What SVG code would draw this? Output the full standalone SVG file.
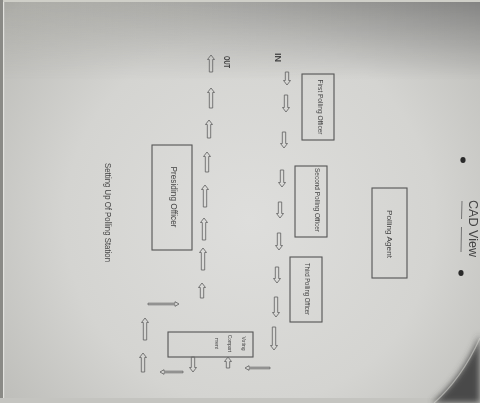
<svg xmlns="http://www.w3.org/2000/svg" width="480" height="403" viewBox="0 0 480 403">
<defs>
<radialGradient id="paper" cx="250" cy="220" r="370" gradientUnits="userSpaceOnUse">
<stop offset="0" stop-color="#dededc"/>
<stop offset="0.5" stop-color="#d4d4d1"/>
<stop offset="0.85" stop-color="#bcbcb8"/>
<stop offset="1" stop-color="#959591"/>
</radialGradient>
<linearGradient id="topshade" x1="0" y1="0" x2="1" y2="0">
<stop offset="0" stop-color="#9c9c96" stop-opacity="0.45"/>
<stop offset="1" stop-color="#707070" stop-opacity="0.75"/>
</linearGradient>
<linearGradient id="topfade" x1="0" y1="0" x2="0" y2="1">
<stop offset="0" stop-color="#fff" stop-opacity="1"/>
<stop offset="1" stop-color="#fff" stop-opacity="0"/>
</linearGradient>
<mask id="tm"><rect x="0" y="0" width="480" height="80" fill="url(#topfade)"/></mask>
<filter id="soft" x="-5%" y="-5%" width="110%" height="110%"><feGaussianBlur stdDeviation="0.45"/></filter>
<filter id="blur3"><feGaussianBlur stdDeviation="3"/></filter>
<style>
.box{fill:none;stroke:#555;stroke-width:1.1}
.arr{fill:none;stroke:#6a6a6a;stroke-width:0.9;stroke-linejoin:round}
.t{font-family:"Liberation Sans",Arial,sans-serif;fill:#444}
</style>
</defs>
<rect width="480" height="403" fill="url(#paper)"/>
<rect width="480" height="80" fill="url(#topshade)" mask="url(#tm)"/>
<rect x="0" y="0" width="480" height="2" fill="#cfcfc8"/>
<rect x="0" y="0" width="3" height="403" fill="#8a8a86"/>
<rect x="3" y="2" width="1.2" height="401" fill="#e2e2de"/>
<rect x="0" y="398" width="480" height="5" fill="#c4c4c0"/>
<path d="M480,335 Q462,378 432,403 L480,403 Z" fill="#4a4a48" filter="url(#blur3)"/>
<path d="M480,338 Q462,378 434,403" fill="none" stroke="#d0d0cc" stroke-width="1.2" opacity="0.6"/>

<g filter="url(#soft)">
<g id="cad-view">
<text class="t" transform="translate(469,228.5) rotate(90)" font-size="13" text-anchor="middle" textLength="57" lengthAdjust="spacingAndGlyphs" fill="#555">CAD View</text>
<path d="M462,201 L461.5,219 M461.5,227 L461,252" stroke="#6a6a6a" stroke-width="0.9" fill="none"/>
</g>
<g id="holes">
<ellipse cx="463" cy="160" rx="2.6" ry="3" fill="#2a2a2a"/>
<ellipse cx="461" cy="273" rx="2.6" ry="3" fill="#2a2a2a"/>
</g>
<g id="polling-agent">
<rect class="box" x="372" y="188" width="35" height="90"/>
<text class="t" transform="translate(386.5,234) rotate(90)" font-size="7.5" text-anchor="middle" textLength="48" lengthAdjust="spacingAndGlyphs">Polling Agent</text>
</g>
<g id="first-polling-officer">
<rect class="box" x="302" y="74" width="32" height="66"/>
<text class="t" transform="translate(318,107) rotate(90)" font-size="6.5" text-anchor="middle" textLength="55" lengthAdjust="spacingAndGlyphs">First Polling Officer</text>
</g>
<g id="second-polling-officer">
<rect class="box" x="295" y="166" width="32" height="71"/>
<text class="t" transform="translate(314.5,200) rotate(90)" font-size="6.5" text-anchor="middle" textLength="64" lengthAdjust="spacingAndGlyphs">Second Polling Officer</text>
</g>
<g id="third-polling-officer">
<rect class="box" x="290" y="257" width="32" height="65"/>
<text class="t" transform="translate(305,289) rotate(90)" font-size="6.5" text-anchor="middle" textLength="52" lengthAdjust="spacingAndGlyphs">Third Polling Officer</text>
</g>
<g id="presiding-officer">
<rect class="box" x="152" y="145" width="40" height="105"/>
<text class="t" transform="translate(171,197) rotate(90)" font-size="9" text-anchor="middle" textLength="61" lengthAdjust="spacingAndGlyphs">Presiding Officer</text>
</g>
<g id="voting-compartment">
<rect class="box" x="168" y="332" width="85" height="25"/>
<text class="t" transform="translate(241.5,343.5) rotate(90)" font-size="5" text-anchor="middle">Voting</text>
<text class="t" transform="translate(227.5,343.5) rotate(90)" font-size="5" text-anchor="middle" textLength="17" lengthAdjust="spacingAndGlyphs">Compart</text>
<text class="t" transform="translate(214.5,343.5) rotate(90)" font-size="5" text-anchor="middle">ment</text>
</g>
<g id="labels">
<text class="t" transform="translate(275,57.5) rotate(90)" font-size="9" font-weight="bold" text-anchor="middle">IN</text>
<text class="t" transform="translate(223.5,62) rotate(90)" font-size="9" font-weight="bold" text-anchor="middle" textLength="12" lengthAdjust="spacingAndGlyphs">OUT</text>
<text class="t" transform="translate(105,212.5) rotate(90)" font-size="9" text-anchor="middle" textLength="99" lengthAdjust="spacingAndGlyphs">Setting Up Of Polling Station</text>
</g>
<g id="connectors">
<path class="arr" transform="translate(287,72)" d="M-1.7,0 h3.4 v8.5 h1.8 l-3.5,4.5 l-3.5,-4.5 h1.8 z"/>
<path class="arr" transform="translate(286,95)" d="M-1.7,0 h3.4 v12.5 h1.8 l-3.5,4.5 l-3.5,-4.5 h1.8 z"/>
<path class="arr" transform="translate(284,132)" d="M-1.7,0 h3.4 v11.5 h1.8 l-3.5,4.5 l-3.5,-4.5 h1.8 z"/>
<path class="arr" transform="translate(282,170)" d="M-1.7,0 h3.4 v12.5 h1.8 l-3.5,4.5 l-3.5,-4.5 h1.8 z"/>
<path class="arr" transform="translate(280,202)" d="M-1.7,0 h3.4 v11.5 h1.8 l-3.5,4.5 l-3.5,-4.5 h1.8 z"/>
<path class="arr" transform="translate(279,233)" d="M-1.7,0 h3.4 v12.5 h1.8 l-3.5,4.5 l-3.5,-4.5 h1.8 z"/>
<path class="arr" transform="translate(277,267)" d="M-1.7,0 h3.4 v11.5 h1.8 l-3.5,4.5 l-3.5,-4.5 h1.8 z"/>
<path class="arr" transform="translate(276,297)" d="M-1.7,0 h3.4 v15.5 h1.8 l-3.5,4.5 l-3.5,-4.5 h1.8 z"/>
<path class="arr" transform="translate(274,327)" d="M-1.7,0 h3.4 v18.5 h1.8 l-3.5,4.5 l-3.5,-4.5 h1.8 z"/>
<path class="arr" transform="translate(211,72) rotate(180)" d="M-1.7,0 h3.4 v12.5 h1.8 l-3.5,4.5 l-3.5,-4.5 h1.8 z"/>
<path class="arr" transform="translate(211,108) rotate(180)" d="M-1.7,0 h3.4 v15.5 h1.8 l-3.5,4.5 l-3.5,-4.5 h1.8 z"/>
<path class="arr" transform="translate(209,138) rotate(180)" d="M-1.7,0 h3.4 v13.5 h1.8 l-3.5,4.5 l-3.5,-4.5 h1.8 z"/>
<path class="arr" transform="translate(207,172) rotate(180)" d="M-1.7,0 h3.4 v15.5 h1.8 l-3.5,4.5 l-3.5,-4.5 h1.8 z"/>
<path class="arr" transform="translate(205,207) rotate(180)" d="M-1.7,0 h3.4 v17.5 h1.8 l-3.5,4.5 l-3.5,-4.5 h1.8 z"/>
<path class="arr" transform="translate(204,240) rotate(180)" d="M-1.7,0 h3.4 v17.5 h1.8 l-3.5,4.5 l-3.5,-4.5 h1.8 z"/>
<path class="arr" transform="translate(203,270) rotate(180)" d="M-1.7,0 h3.4 v17.5 h1.8 l-3.5,4.5 l-3.5,-4.5 h1.8 z"/>
<path class="arr" transform="translate(202,298) rotate(180)" d="M-1.7,0 h3.4 v10.5 h1.8 l-3.5,4.5 l-3.5,-4.5 h1.8 z"/>
<path class="arr" transform="translate(145,340) rotate(180)" d="M-1.7,0 h3.4 v17.5 h1.8 l-3.5,4.5 l-3.5,-4.5 h1.8 z"/>
<path class="arr" transform="translate(143,372) rotate(180)" d="M-1.7,0 h3.4 v14.5 h1.8 l-3.5,4.5 l-3.5,-4.5 h1.8 z"/>
<path class="arr" transform="translate(193,357)" d="M-1.7,0 h3.4 v10.5 h1.8 l-3.5,4.5 l-3.5,-4.5 h1.8 z"/>
<path class="arr" transform="translate(228,368) rotate(180)" d="M-1.7,0 h3.4 v6.5 h1.8 l-3.5,4.5 l-3.5,-4.5 h1.8 z"/>
<path class="arr" transform="translate(148,304) rotate(-90)" d="M-0.8,0 h1.6 v27 h1.5 l-2.3,4 l-2.3,-4 h1.5 z"/>
<path class="arr" transform="translate(183,372) rotate(90)" d="M-0.8,0 h1.6 v19 h1.5 l-2.3,4 l-2.3,-4 h1.5 z"/>
<path class="arr" transform="translate(270,368) rotate(90)" d="M-0.8,0 h1.6 v21 h1.5 l-2.3,4 l-2.3,-4 h1.5 z"/>
</g>
</g>
</svg>
